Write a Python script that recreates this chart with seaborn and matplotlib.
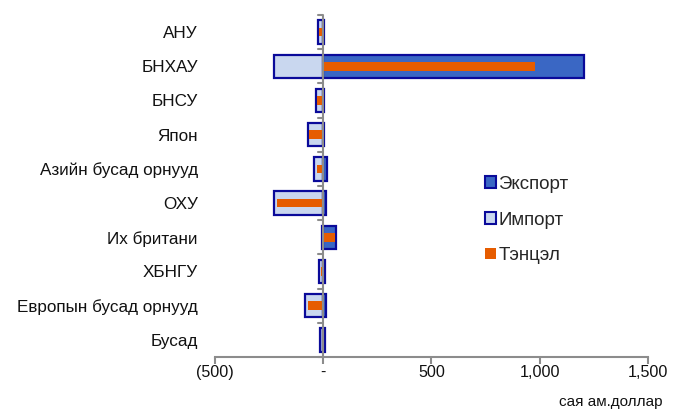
import pandas as pd
import seaborn as sns
import matplotlib.pyplot as plt
from matplotlib.patches import Patch
from matplotlib.ticker import FuncFormatter

# values in million USD
countries = ['АНУ', 'БНХАУ', 'БНСУ', 'Япон', 'Азийн бусад орнууд', 'ОХУ',
             'Их британи', 'ХБНГУ', 'Европын бусад орнууд', 'Бусад']
export = [5, 1205, 5, 4, 17, 14, 60, 8, 14, 6]
imports = [-26, -226, -34, -72, -45, -226, -6, -18, -83, -14]
balance = [-21, 979, -29, -68, -28, -212, 54, -10, -69, -8]

edge = '#0A0A9A'
c_exp = '#3A67C4'
c_imp = '#C9D7EF'
c_bal = '#E65C00'
grey = '#8C8C8C'

sns.set_theme(style='white')
plt.rcParams['font.family'] = ['Liberation Sans', 'DejaVu Sans']

df = pd.DataFrame({'country': countries, 'export': export,
                   'import': imports, 'balance': balance})

fig = plt.figure(figsize=(6.86, 4.12), dpi=100)
ax = fig.add_axes([0.3134, 0.1335, 0.6312, 0.8301])

sns.barplot(data=df, x='import', y='country', orient='h', ax=ax, width=0.68,
            color=c_imp, saturation=1, edgecolor=edge, linewidth=1.6)
sns.barplot(data=df, x='export', y='country', orient='h', ax=ax, width=0.68,
            color=c_exp, saturation=1, edgecolor=edge, linewidth=1.6)
sns.barplot(data=df, x='balance', y='country', orient='h', ax=ax, width=0.25,
            color=c_bal, saturation=1, linewidth=0)

ax.set_xlim(-500, 1500)
ax.set_ylim(len(countries) - 0.5, -0.5)
ax.set_xticks([-500, 0, 500, 1000, 1500])


def fmt(v, pos):
    if v == 0:
        return '-'
    if v < 0:
        return f'({abs(v):,.0f})'
    return f'{v:,.0f}'


ax.xaxis.set_major_formatter(FuncFormatter(fmt))
ax.set_xlabel('')
ax.set_ylabel('')

for s in ['top', 'right', 'left']:
    ax.spines[s].set_visible(False)
ax.spines['bottom'].set_color(grey)
ax.spines['bottom'].set_linewidth(1.5)
ax.tick_params(axis='x', bottom=True, length=5, width=1.5, color=grey,
               labelsize=11.6, pad=0.5, labelcolor='#111111')
ax.tick_params(axis='y', left=False, labelsize=12.3, pad=6.5, labelcolor='#111111')

# category axis drawn at zero with separator ticks
ax.axvline(0, color=grey, lw=1.5, zorder=5)
for b in range(len(countries) + 1):
    ax.plot([-23, 0], [b - 0.5, b - 0.5], color=grey, lw=1.5, zorder=5,
            clip_on=False)

handles = [Patch(facecolor=c_exp, edgecolor=edge, linewidth=1.5, label='Экспорт'),
           Patch(facecolor=c_imp, edgecolor=edge, linewidth=1.5, label='Импорт'),
           Patch(facecolor=c_bal, edgecolor='none', label='Тэнцэл')]
fig.legend(handles=handles, loc='center left', bbox_to_anchor=(0.682, 0.466),
           frameon=False, fontsize=13.5, handlelength=0.58, handleheight=0.58,
           handletextpad=0.15, labelspacing=1.0)

fig.text(0.966, 0.008, 'сая ам.доллар', ha='right', va='bottom', fontsize=11,
         color='#111111')

fig.savefig('out.png', dpi=100)
